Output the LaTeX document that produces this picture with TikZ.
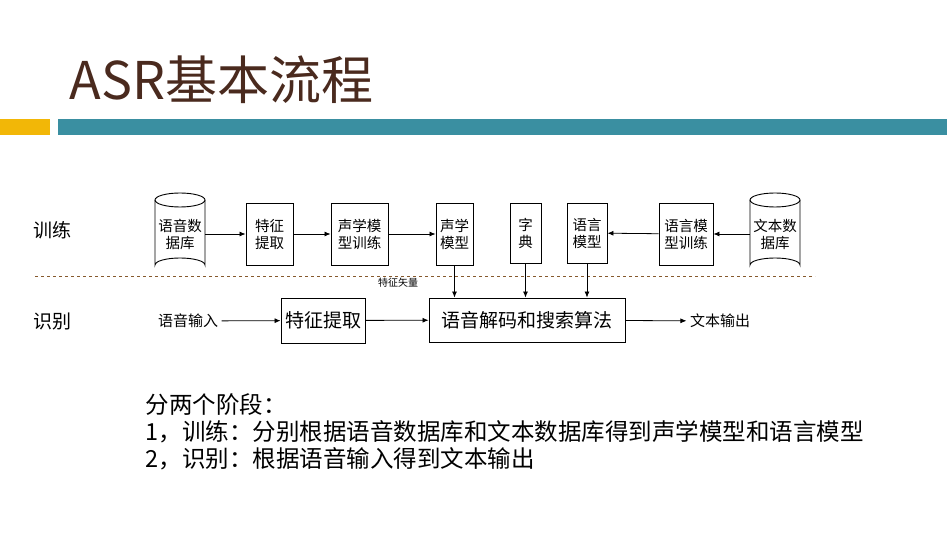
\documentclass[tikz,border=0pt]{standalone}
\usepackage{fontspec}
\setmainfont{Noto Sans CJK SC}
\newfontfamily\serifcjk{Noto Serif CJK SC}
\usetikzlibrary{arrows.meta}
\definecolor{brownt}{HTML}{4A2A1E}
\definecolor{orng}{HTML}{F2B707}
\definecolor{teal2}{HTML}{3A8FA1}
\begin{document}
\begin{tikzpicture}[x=1pt,y=-1pt,
  box/.style={draw,line width=0.9pt,align=center,inner sep=0pt,font=\fontsize{14.5}{17}\selectfont},
  arr/.style={-{Latex[length=6pt,width=5pt]},line width=0.8pt},
  cyl/.style={line width=0.9pt}]
\useasboundingbox (0,0) rectangle (947,534);
\fill[white] (0,0) rectangle (947,534);
\node[anchor=west,text=brownt,font=\fontsize{52}{56}\selectfont] (title) at (66,80) {ASR基本流程};
\fill[orng] (0,119) rectangle (50,135);
\fill[teal2] (58,119) rectangle (947,135);
\node[font=\fontsize{19}{21}\selectfont] (lt) at (52,230) {训练};
\node[font=\fontsize{19}{21}\selectfont] (lr) at (52,321) {识别};
% cylinders
\foreach \n/\xa/\xb/\t in {db1/155/205/{语音数\\据库},db2/750/800/{文本数\\据库}}{
  \draw[cyl] (\xa,200) -- (\xa,265) arc[start angle=180,end angle=360,x radius=25,y radius=7] -- (\xb,200);
  \draw[cyl] (\xa+25,200) ellipse[x radius=25,y radius=7];
  \node[box,draw=none,minimum width=50,minimum height=79] (\n) at ({(\xa+\xb)/2},234) {\t};
}
\node[box,minimum width=47,minimum height=62] (fe) at (269.5,234) {特征\\提取};
\node[box,minimum width=57,minimum height=62] (amt) at (359.5,234) {声学模\\型训练};
\node[box,minimum width=37,minimum height=62] (am) at (454.5,234) {声学\\模型};
\node[box,minimum width=31,minimum height=60] (dict) at (525.5,233) {字\\典};
\node[box,minimum width=40,minimum height=60] (lm) at (587,233) {语言\\模型};
\node[box,minimum width=54,minimum height=62] (lmt) at (686,234) {语言模\\型训练};
\draw[arr] (db1) -- (fe);
\draw[arr] (fe) -- (amt);
\draw[arr] (amt) -- (am);
\draw[arr] (db2) -- (lmt);
\draw[arr] (lmt) -- (lm);
\draw[dashed,line width=0.7pt,draw=brown!70!black] (35,276) -- (815,276);
\node[font=\fontsize{10}{11}\selectfont] (fv) at (398,283) {特征矢量};
\node[font=\fontsize{15}{17}\selectfont] (in) at (188,321) {语音输入};
\node[box,minimum width=84,minimum height=45,font=\fontsize{19}{21}\selectfont] (fe2) at (323,320.5) {特征提取};
\node[box,minimum width=196,minimum height=44,font=\fontsize{19}{21}\selectfont] (dec) at (527,320) {语音解码和搜索算法};
\node[font=\fontsize{15}{17}\selectfont] (out) at (720,321) {文本输出};
\draw[arr] (in) -- (fe2);
\draw[arr] (fe2) -- (dec);
\draw[arr] (dec) -- (out);
\draw[arr] (am.south) -- (am.south |- dec.north);
\draw[arr] (dict.south) -- (dict.south |- dec.north);
\draw[arr] (lm.south) -- (lm.south |- dec.north);
\node[anchor=west,align=left,font=\fontsize{23.5}{27}\selectfont] (txt) at (142,432) {分两个阶段：\\1，训练：分别根据语音数据库和文本数据库得到声学模型和语言模型\\2，识别：根据语音输入得到文本输出};
\end{tikzpicture}
\end{document}
